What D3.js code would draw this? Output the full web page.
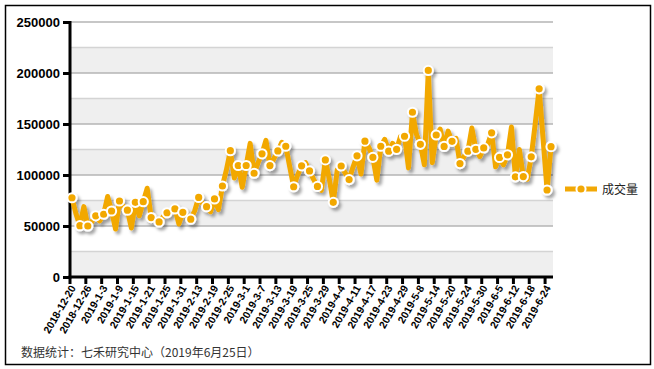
<!DOCTYPE html>
<html>
<head>
<meta charset="utf-8">
<script src="https://cdn.jsdelivr.net/npm/d3@7/dist/d3.min.js"></script>
<style>
  body { margin: 0; background: #fff; }
  svg { display: block; font-family: Arial, "Liberation Sans", sans-serif; }
</style>
</head>
<body>
<svg id="chart" width="654" height="369"></svg>
<script>
// trading days 2018-12-20 .. 2019-6-25
const dates = [
  '2018-12-20','2018-12-21','2018-12-24','2018-12-25','2018-12-26','2018-12-27','2018-12-28',
  '2019-1-2','2019-1-3','2019-1-4','2019-1-7','2019-1-8','2019-1-9','2019-1-10','2019-1-11',
  '2019-1-14','2019-1-15','2019-1-16','2019-1-17','2019-1-18','2019-1-21','2019-1-22','2019-1-23',
  '2019-1-24','2019-1-25','2019-1-28','2019-1-29','2019-1-30','2019-1-31',
  '2019-2-1','2019-2-11','2019-2-12','2019-2-13','2019-2-14','2019-2-15','2019-2-18','2019-2-19',
  '2019-2-20','2019-2-21','2019-2-22','2019-2-25','2019-2-26','2019-2-27','2019-2-28',
  '2019-3-1','2019-3-4','2019-3-5','2019-3-6','2019-3-7','2019-3-8','2019-3-11','2019-3-12',
  '2019-3-13','2019-3-14','2019-3-15','2019-3-18','2019-3-19','2019-3-20','2019-3-21','2019-3-22',
  '2019-3-25','2019-3-26','2019-3-27','2019-3-28','2019-3-29',
  '2019-4-1','2019-4-2','2019-4-3','2019-4-4','2019-4-8','2019-4-9','2019-4-10','2019-4-11',
  '2019-4-12','2019-4-15','2019-4-16','2019-4-17','2019-4-18','2019-4-19','2019-4-22','2019-4-23',
  '2019-4-24','2019-4-25','2019-4-26','2019-4-29','2019-4-30',
  '2019-5-6','2019-5-7','2019-5-8','2019-5-9','2019-5-10','2019-5-13','2019-5-14','2019-5-15',
  '2019-5-16','2019-5-17','2019-5-20','2019-5-21','2019-5-22','2019-5-23','2019-5-24',
  '2019-5-27','2019-5-28','2019-5-29','2019-5-30','2019-5-31',
  '2019-6-3','2019-6-4','2019-6-5','2019-6-6','2019-6-10','2019-6-11','2019-6-12','2019-6-13',
  '2019-6-14','2019-6-17','2019-6-18','2019-6-19','2019-6-20','2019-6-21','2019-6-24','2019-6-25'
];

// 成交量
const volume = [
  77700, 62000, 50300, 69000, 50000, 54000, 60000, 55000, 61500, 79000,
  64700, 47000, 74500, 69000, 65500, 48000, 73200, 60000, 73800, 87000,
  58300, 57000, 54000, 59000, 63000, 64000, 66700, 52000, 63400, 60000,
  56700, 65000, 78000, 72000, 68900, 64000, 76500, 66000, 89200, 105000,
  123800, 97000, 109300, 88000, 109300, 131000, 101700, 112000, 120800, 134000,
  109200, 116000, 123600, 132000, 128200, 108000, 88500, 100000, 109000, 112000,
  104000, 96000, 88800, 85000, 114800, 96000, 73200, 105000, 108800, 102000,
  95500, 108000, 118800, 101000, 133200, 127000, 117300, 95000, 128200, 135000,
  123400, 131000, 125200, 138000, 138000, 107000, 161500, 140000, 130100, 110000,
  202500, 112000, 139200, 145000, 128000, 143000, 133000, 136000, 111200, 118000,
  123400, 146000, 125200, 118000, 126500, 130000, 141300, 108000, 117200, 110000,
  119800, 147000, 98200, 125000, 98500, 96000, 117800, 150000, 184500, 135000,
  85300, 127800
];

const yTicks = [0, 50000, 100000, 150000, 200000, 250000];
const tickLabels = dates.filter((d, i) => i % 4 === 0);
const seriesName = '成交量';
const footnote = '数据统计：七禾研究中心（2019年6月25日）';

const orange = '#f2a805';
const svg = d3.select('#chart');

const plot = { left: 70, right: 553, top: 22, bottom: 277 };

const x = d3.scaleBand().domain(dates).range([plot.left, plot.right]).padding(0);
const y = d3.scaleLinear().domain([0, 250000]).range([plot.bottom, plot.top]);
const cx = d => x(d) + x.bandwidth() / 2;

// frame
svg.append('rect')
  .attr('x', 5.5).attr('y', 5.5)
  .attr('width', 645).attr('height', 359)
  .attr('fill', '#fff').attr('stroke', '#000').attr('stroke-width', 1.5);

const defs = svg.append('defs');
defs.append('filter')
  .attr('id', 'shadow')
  .attr('x', '-10%').attr('y', '-10%').attr('width', '120%').attr('height', '120%')
  .append('feDropShadow')
  .attr('dx', 2.5).attr('dy', 3)
  .attr('stdDeviation', 1.6)
  .attr('flood-color', '#000')
  .attr('flood-opacity', 0.35);

// alternating bands
const bandStarts = d3.range(0, 250000, 50000);
svg.append('g')
  .selectAll('rect')
  .data(bandStarts)
  .enter()
  .append('rect')
  .attr('x', plot.left)
  .attr('y', d => y(d + 25000))
  .attr('width', plot.right - plot.left)
  .attr('height', d => y(d) - y(d + 25000))
  .attr('fill', '#efefef');

// grid lines
const gridVals = d3.range(25000, 250001, 25000);
svg.append('g')
  .selectAll('line')
  .data(gridVals)
  .enter()
  .append('line')
  .attr('x1', plot.left).attr('x2', plot.right)
  .attr('y1', d => y(d)).attr('y2', d => y(d))
  .attr('stroke', d => d % 50000 === 0 ? '#b4b4b4' : '#d4d4d4')
  .attr('stroke-width', 1.5);

// y axis
const yAxis = svg.append('g')
  .attr('transform', `translate(${plot.left},0)`)
  .call(d3.axisLeft(y).tickValues(yTicks).tickSize(7).tickPadding(3).tickFormat(d3.format('d')));
yAxis.select('.domain').remove();
yAxis.selectAll('.tick line').attr('stroke', '#000').attr('stroke-width', 3);
yAxis.selectAll('.tick text')
  .attr('fill', '#000')
  .style('font-size', '13px')
  .style('font-weight', 'bold');

// x axis (ticks sit at the start of each labelled day)
const xAxis = svg.append('g')
  .attr('transform', `translate(${-x.bandwidth() / 2},${plot.bottom})`)
  .call(d3.axisBottom(x).tickValues(tickLabels).tickSize(7).tickPadding(2));
xAxis.select('.domain').remove();
xAxis.selectAll('.tick line').attr('stroke', '#000').attr('stroke-width', 3);
xAxis.selectAll('.tick text')
  .attr('fill', '#000')
  .style('font-size', '10.5px')
  .style('font-weight', 'bold')
  .attr('text-anchor', 'end')
  .attr('transform', 'translate(3,9) rotate(-60)')
  .attr('x', 0).attr('y', 0).attr('dy', '0.35em');

// axis lines
svg.append('line')
  .attr('x1', plot.left).attr('x2', plot.left)
  .attr('y1', plot.top - 1).attr('y2', plot.bottom + 1.5)
  .attr('stroke', '#000').attr('stroke-width', 3);
svg.append('line')
  .attr('x1', plot.left - 1.5).attr('x2', plot.right)
  .attr('y1', plot.bottom).attr('y2', plot.bottom)
  .attr('stroke', '#000').attr('stroke-width', 3);

// series
const line = d3.line()
  .x((d, i) => cx(dates[i]))
  .y(d => y(d));

const series = svg.append('g').attr('filter', 'url(#shadow)');
series.append('path')
  .datum(volume)
  .attr('d', line)
  .attr('fill', 'none')
  .attr('stroke', orange)
  .attr('stroke-width', 5)
  .attr('stroke-linejoin', 'round');

series.selectAll('circle')
  .data(volume.map((v, i) => ({ v, i })).filter(d => d.i % 2 === 0 || d.i === volume.length - 1))
  .enter()
  .append('circle')
  .attr('cx', d => cx(dates[d.i]))
  .attr('cy', d => y(d.v))
  .attr('r', 4.6)
  .attr('fill', orange)
  .attr('stroke', '#fff')
  .attr('stroke-width', 2);

// legend
const legend = svg.append('g').attr('transform', 'translate(565,189)');
legend.append('line')
  .attr('x1', 0).attr('x2', 32)
  .attr('stroke', orange).attr('stroke-width', 5);
legend.append('circle')
  .attr('cx', 16).attr('r', 4.6)
  .attr('fill', orange).attr('stroke', '#fff').attr('stroke-width', 2);
legend.append('text')
  .attr('x', 37).attr('y', 4.5)
  .style('font-family', '"Noto Sans CJK SC", sans-serif')
  .style('font-size', '12px')
  .attr('fill', '#222')
  .text(seriesName);

// footnote
svg.append('text')
  .attr('x', 21).attr('y', 357)
  .style('font-family', '"Noto Sans CJK SC", sans-serif')
  .style('font-size', '12px')
  .attr('fill', '#333')
  .text(footnote);
</script>
</body>
</html>
